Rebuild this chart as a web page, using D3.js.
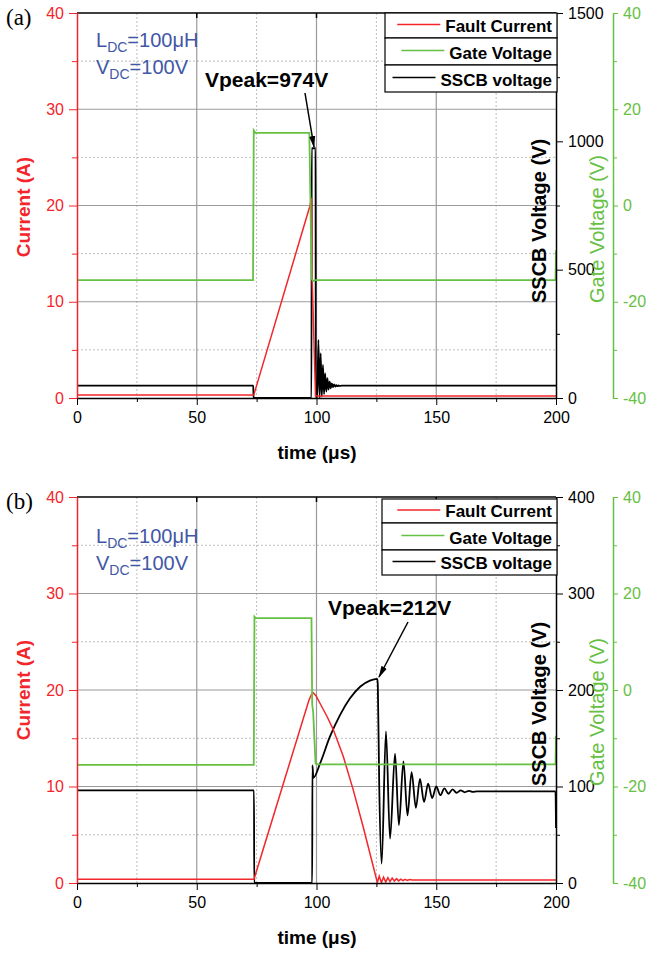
<!DOCTYPE html>
<html>
<head>
<meta charset="utf-8">
<script src="https://cdn.jsdelivr.net/npm/d3@7"></script>
<style>
  body { margin: 0; background: #fff; }
  svg { display: block; font-family: "Liberation Sans", Arial, sans-serif; }
</style>
</head>
<body>
<svg width="649" height="957"></svg>
<script>
// shared ticks
const timeTicks = [0, 50, 100, 150, 200];
const timeMinor = [25, 75, 125, 175];
const currentTicks = [0, 10, 20, 30, 40];
const currentMinor = [5, 15, 25, 35];
const gateTicks = [-40, -20, 0, 20, 40];
const gateMinor = [-30, -10, 10, 30];
const legendNames = ["Fault Current", "Gate Voltage", "SSCB voltage"];

// panel (a): [time us, value]
const sscbTicksA = [0, 500, 1000, 1500];
const sscbMinorA = [250, 750, 1250];
const currentA = [[0, 0.3], [73.8, 0.3], [97.3, 20.0], [97.9, 20.8], [98.2, 12.3], [99.6, 0.2], [200, 0.2]];
const gateA = [[0, -15.5], [73.5, -15.5], [73.8, 15.6], [74.4, 15.1], [97.0, 15.1], [98.0, -15.2], [98.6, -15.7],
  [99.5, -15.5], [199.8, -15.5], [200, -9.3]];
const sscbA = [[0, 48], [73.6, 48], [73.7, 0], [97.9, 0], [98.0, 973], [99.6, 973], [99.7, 0], [100.3, 0],
  [100.8, 226], [101.3, 0], [101.75, 174], [102.2, 5], [102.7, 129], [103.15, 15], [103.6, 96], [104.1, 25],
  [104.55, 77], [105.0, 33], [105.5, 64], [105.95, 38], [106.4, 57], [106.9, 42], [107.35, 53], [107.85, 44],
  [108.3, 50], [108.75, 46], [109.2, 49], [109.7, 47], [110.5, 48], [200, 48]];

// panel (b)
const sscbTicksB = [0, 100, 200, 300, 400];
const sscbMinorB = [50, 150, 250, 350];
const currentB = [[0, 0.4], [73.9, 0.4], [96.8, 18.9], [97.8, 19.5], [98.6, 19.7], [99.8, 19.4], [101.5, 18.6],
  [104.5, 17.2], [107.0, 15.9], [111.2, 13.1], [115.4, 9.6], [119.5, 5.8], [125.4, 0.05], [126.2, 0.7],
  [127.1, 0.05], [128.0, 0.6], [128.9, 0.1], [129.8, 0.55], [130.7, 0.15], [131.6, 0.5], [132.5, 0.2],
  [133.4, 0.45], [134.3, 0.22], [135.2, 0.4], [136.1, 0.25], [137.0, 0.38], [137.9, 0.27], [138.8, 0.36],
  [140, 0.32], [200, 0.32]];
const gateB = [[0, -15.5], [73.8, -15.5], [74.1, 15.2], [74.6, 14.9], [97.9, 14.9], [98.2, -3], [98.6, -4.5],
  [99.6, -15.2], [100.5, -15.4], [199.8, -15.4], [200, -9.5]];
const sscbB = [[0, 96], [73.9, 96], [74.0, 0], [98.2, 0], [98.3, 122], [98.7, 109], [101.5, 124], [105.6, 151.6],
  [109.8, 174], [114.0, 191.4], [118.2, 203.4], [122.3, 209.7], [125.4, 211.5], [125.6, 205], [126.2, 100],
  [127.2, 20], [129.0, 157], [130.7, 46], [132.8, 134], [134.4, 60], [136.3, 126], [138.0, 70], [139.7, 115],
  [141.5, 78], [143.2, 108], [144.9, 84], [146.6, 103], [148.3, 88], [150.0, 100], [151.7, 91], [153.4, 98],
  [155.1, 92.5], [156.8, 97], [158.5, 93.5], [160.2, 96], [161.9, 94], [163.6, 95.5], [165.3, 94.5], [167, 95],
  [199.8, 95], [200, 57]];

const RED = "#f2262b", GREEN = "#66c043", BLUE = "#3f57a6";
const svg = d3.select("svg");
const plain = d => String(d);

svg.append("defs").append("marker")
  .attr("id", "arrow")
  .attr("markerUnits", "userSpaceOnUse")
  .attr("markerWidth", 12).attr("markerHeight", 8)
  .attr("refX", 11).attr("refY", 4)
  .attr("orient", "auto")
  .append("path").attr("d", "M0,1 L12,4 L0,7 Z").attr("fill", "#000");

const x = d3.scaleLinear().domain([0, 200]).range([77, 556]);

function drawPanel(p) {
  const yI = d3.scaleLinear().domain([0, 40]).range([p.bottom, p.top]);
  const yV = d3.scaleLinear().domain([0, p.sscbMax]).range([p.bottom, p.top]);
  const yG = d3.scaleLinear().domain([-40, 40]).range([p.bottom, p.top]);
  const g = svg.append("g");

  // grid
  g.selectAll(null).data(timeMinor).join("line")
    .attr("x1", d => x(d)).attr("x2", d => x(d)).attr("y1", p.top).attr("y2", p.bottom)
    .attr("stroke", "#bdbdbd").attr("stroke-dasharray", "2,2");
  g.selectAll(null).data(currentMinor).join("line")
    .attr("x1", x(0)).attr("x2", x(200)).attr("y1", d => yI(d)).attr("y2", d => yI(d))
    .attr("stroke", "#bdbdbd").attr("stroke-dasharray", "2,2");
  g.selectAll(null).data([50, 100, 150]).join("line")
    .attr("x1", d => x(d)).attr("x2", d => x(d)).attr("y1", p.top).attr("y2", p.bottom)
    .attr("stroke", "#9a9a9a").attr("stroke-width", 1.2);
  g.selectAll(null).data([10, 20, 30]).join("line")
    .attr("x1", x(0)).attr("x2", x(200)).attr("y1", d => yI(d)).attr("y2", d => yI(d))
    .attr("stroke", "#9a9a9a").attr("stroke-width", 1.2);

  // top border + inward ticks
  g.append("line").attr("x1", x(0)).attr("x2", x(200)).attr("y1", p.top).attr("y2", p.top)
    .attr("stroke", "#000").attr("stroke-width", 1.5);
  g.selectAll(null).data([50, 100, 150]).join("line")
    .attr("x1", d => x(d)).attr("x2", d => x(d)).attr("y1", p.top).attr("y2", p.top + 5)
    .attr("stroke", "#000").attr("stroke-width", 1.5);

  // series
  const mk = (ys, c) => d3.line().x(d => x(d[0])).y(d => ys(d[1])).curve(c);
  g.append("path").attr("d", mk(yV, d3.curveMonotoneX)(p.sscb))
    .attr("fill", "none").attr("stroke", "#000").attr("stroke-width", 1.8);
  g.append("path").attr("d", mk(yI, d3.curveLinear)(p.current))
    .attr("fill", "none").attr("stroke", RED).attr("stroke-width", 1.5);
  g.append("path").attr("d", mk(yG, d3.curveLinear)(p.gate))
    .attr("fill", "none").attr("stroke", GREEN).attr("stroke-width", 1.8);

  // bottom axis
  const ax = g.append("g").attr("transform", `translate(0,${p.bottom})`)
    .call(d3.axisBottom(x).tickValues(timeTicks).tickFormat(plain).tickSize(7).tickPadding(7).tickSizeOuter(0));
  g.append("g").attr("transform", `translate(0,${p.bottom})`)
    .call(d3.axisBottom(x).tickValues(timeMinor).tickSize(4).tickFormat("").tickSizeOuter(0))
    .select(".domain").remove();
  ax.select(".domain").attr("stroke-width", 1.5);

  // left axis (current)
  const al = g.append("g").attr("transform", `translate(${x(0)},0)`)
    .call(d3.axisLeft(yI).tickValues(currentTicks).tickFormat(plain).tickSize(8).tickPadding(5).tickSizeOuter(0));
  g.append("g").attr("transform", `translate(${x(0)},0)`)
    .call(d3.axisLeft(yI).tickValues(currentMinor).tickSize(5).tickFormat("").tickSizeOuter(0))
    .call(a => a.select(".domain").remove())
    .selectAll("line").attr("stroke", RED);
  al.select(".domain").attr("stroke", RED).attr("stroke-width", 1.5);
  al.selectAll("line").attr("stroke", RED);
  al.selectAll("text").attr("fill", RED);

  // right axis (sscb)
  const ar = g.append("g").attr("transform", `translate(${x(200)},0)`)
    .call(d3.axisRight(yV).tickValues(p.sscbTicks).tickFormat(plain).tickSize(7).tickPadding(5).tickSizeOuter(0));
  g.append("g").attr("transform", `translate(${x(200)},0)`)
    .call(d3.axisRight(yV).tickValues(p.sscbMinor).tickSize(4).tickFormat("").tickSizeOuter(0))
    .select(".domain").remove();
  ar.select(".domain").attr("stroke-width", 1.5);

  // gate axis
  const ag = g.append("g").attr("transform", "translate(613,0)")
    .call(d3.axisRight(yG).tickValues(gateTicks).tickFormat(plain).tickSize(5).tickPadding(5).tickSizeOuter(0));
  g.append("g").attr("transform", "translate(613,0)")
    .call(d3.axisRight(yG).tickValues(gateMinor).tickSize(4).tickFormat("").tickSizeOuter(0))
    .call(a => a.select(".domain").remove())
    .selectAll("line").attr("stroke", GREEN);
  ag.select(".domain").attr("stroke", GREEN).attr("stroke-width", 1.5);
  ag.selectAll("line").attr("stroke", GREEN);
  ag.selectAll("text").attr("fill", GREEN);

  g.selectAll(".tick text").attr("font-size", 16).attr("font-family", "Liberation Sans, Arial, sans-serif");

  // axis titles
  g.append("text").attr("x", 317).attr("y", p.bottom + 61).attr("text-anchor", "middle")
    .attr("font-size", 19).attr("font-weight", "bold").text("time (\u03bcs)");
  g.append("text").attr("transform", `translate(30,${p.midY}) rotate(-90)`).attr("text-anchor", "middle")
    .attr("font-size", 19).attr("font-weight", "bold").attr("fill", RED).text("Current (A)");
  g.append("text").attr("transform", `translate(546,${p.midY + 14}) rotate(-90)`).attr("text-anchor", "middle")
    .attr("font-size", 20).attr("font-weight", "bold").text("SSCB Voltage (V)");
  g.append("text").attr("transform", `translate(604,${p.midY + 22}) rotate(-90)`).attr("text-anchor", "middle")
    .attr("font-size", 20).attr("fill", GREEN).text("Gate Voltage (V)");

  // panel label
  g.append("text").attr("x", 6).attr("y", p.top + 12)
    .attr("font-family", "Liberation Serif, Times New Roman, serif").attr("font-size", 23).text(p.label);

  // circuit parameters
  const t1 = g.append("text").attr("x", 96).attr("y", p.paramY).attr("font-size", 20).attr("fill", BLUE);
  t1.append("tspan").text("L");
  t1.append("tspan").attr("dy", 5).attr("font-size", 14).text("DC");
  t1.append("tspan").attr("dy", -5).text("=100\u03bcH");
  const t2 = g.append("text").attr("x", 96).attr("y", p.paramY + 27).attr("font-size", 20).attr("fill", BLUE);
  t2.append("tspan").text("V");
  t2.append("tspan").attr("dy", 5).attr("font-size", 14).text("DC");
  t2.append("tspan").attr("dy", -5).text("=100V");

  // peak annotation
  g.append("text").attr("x", p.peakText[0]).attr("y", p.peakText[1])
    .attr("font-size", 21).attr("font-weight", "bold").text(p.peakLabel);
  g.append("line")
    .attr("x1", p.arrow[0]).attr("y1", p.arrow[1]).attr("x2", p.arrow[2]).attr("y2", p.arrow[3])
    .attr("stroke", "#000").attr("stroke-width", 1.5).attr("marker-end", "url(#arrow)");

  // legend
  const colors = [RED, GREEN, "#000"];
  p.legendRows.forEach((r, i) => {
    g.append("rect").attr("x", p.legendX[0]).attr("y", r[0])
      .attr("width", p.legendX[1] - p.legendX[0]).attr("height", r[1] - r[0])
      .attr("fill", "#fff").attr("stroke", "#000").attr("stroke-width", 1.2);
    const tx = g.append("text").attr("x", 552).attr("y", r[1] - 6).attr("text-anchor", "end")
      .attr("font-size", 17).attr("font-weight", "bold").text(legendNames[i]);
    const w = tx.node().getComputedTextLength();
    const ly = (r[0] + r[1]) / 2 - 1;
    g.append("line").attr("x1", 552 - w - 48).attr("x2", 552 - w - 5).attr("y1", ly).attr("y2", ly)
      .attr("stroke", colors[i]).attr("stroke-width", 1.5);
  });
}

drawPanel({
  top: 13, bottom: 398, midY: 207, sscbMax: 1500, sscbTicks: sscbTicksA, sscbMinor: sscbMinorA,
  current: currentA, gate: gateA, sscb: sscbA, label: "(a)", paramY: 47,
  peakLabel: "Vpeak=974V", peakText: [205, 87], arrow: [305, 93, 314, 147],
  legendX: [385, 557], legendRows: [[13, 38], [38, 65], [65, 92]]
});

drawPanel({
  top: 497, bottom: 883, midY: 690, sscbMax: 400, sscbTicks: sscbTicksB, sscbMinor: sscbMinorB,
  current: currentB, gate: gateB, sscb: sscbB, label: "(b)", paramY: 543,
  peakLabel: "Vpeak=212V", peakText: [328, 615], arrow: [408, 622, 379, 677],
  legendX: [382, 557], legendRows: [[499, 523], [523, 550], [550, 575]]
});
</script>
</body>
</html>
